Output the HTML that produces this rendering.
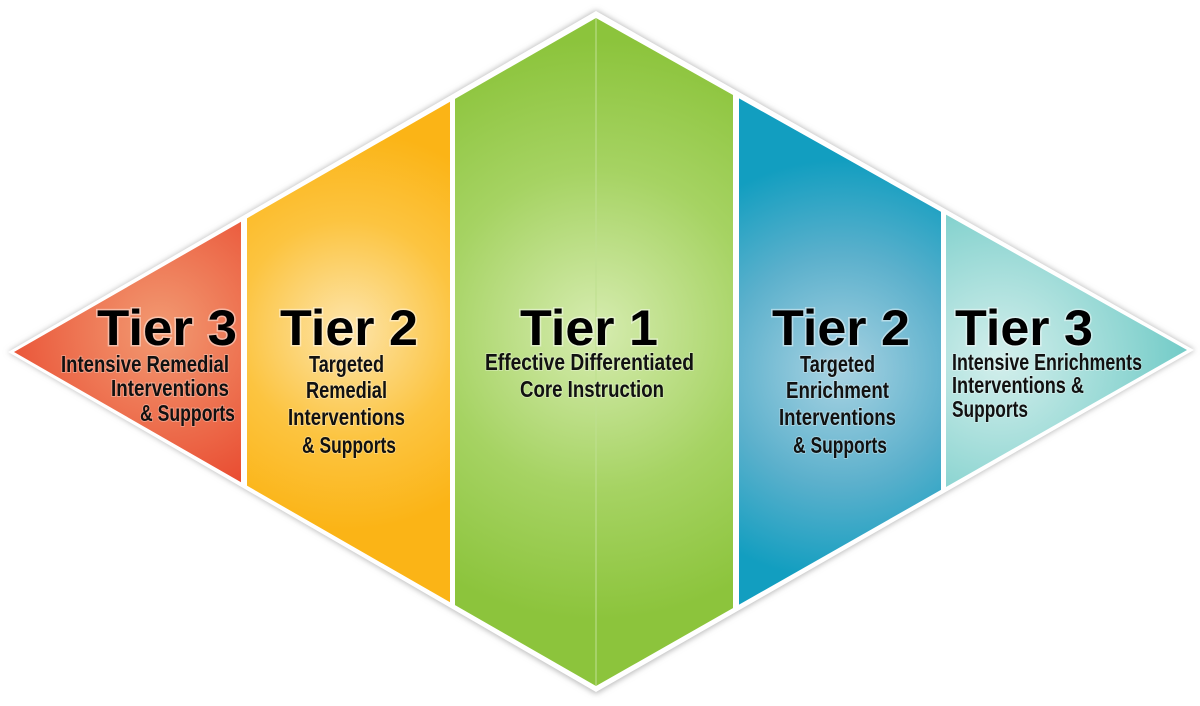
<!DOCTYPE html>
<html><head><meta charset="utf-8"><style>html,body{margin:0;padding:0;background:#fff}svg{display:block}</style></head>
<body>
<svg width="1200" height="706" viewBox="0 0 1200 706" xmlns="http://www.w3.org/2000/svg">
<defs>
<filter id="sh" x="-5%" y="-5%" width="110%" height="110%"><feGaussianBlur stdDeviation="3"/></filter>
<radialGradient id="gr" gradientUnits="userSpaceOnUse" cx="160" cy="330" r="190"><stop offset="0" stop-color="#f29a72"/><stop offset="1" stop-color="#e8442a"/></radialGradient>
<radialGradient id="go" gradientUnits="userSpaceOnUse" cx="348" cy="330" r="200"><stop offset="0" stop-color="#fde5ac"/><stop offset="0.55" stop-color="#fcc440"/><stop offset="1" stop-color="#fbb416"/></radialGradient>
<radialGradient id="gg" gradientUnits="userSpaceOnUse" cx="596" cy="330" r="290"><stop offset="0" stop-color="#d6ecb0"/><stop offset="0.55" stop-color="#a6d363"/><stop offset="1" stop-color="#8cc43c"/></radialGradient>
<radialGradient id="gb" gradientUnits="userSpaceOnUse" cx="840" cy="370" r="210"><stop offset="0" stop-color="#a9d3e2"/><stop offset="0.55" stop-color="#5bb0cc"/><stop offset="1" stop-color="#129ec0"/></radialGradient>
<radialGradient id="gt" gradientUnits="userSpaceOnUse" cx="1000" cy="360" r="230"><stop offset="0" stop-color="#d4efec"/><stop offset="1" stop-color="#5cc3bf"/></radialGradient>
<clipPath id="dc"><polygon points="14,352 596,18 1187,350 596,686"/></clipPath>
</defs>
<polygon points="8,352 596,10 1195,350 596,694" fill="#bbb" filter="url(#sh)"/>
<polygon points="8,352 596,11 1194,350 596,692" fill="#fff"/>
<g clip-path="url(#dc)">
<rect x="0" y="0" width="241" height="706" fill="url(#gr)"/>
<rect x="247" y="0" width="203" height="706" fill="url(#go)"/>
<rect x="455" y="0" width="278" height="706" fill="url(#gg)"/>
<rect x="739" y="0" width="202" height="706" fill="url(#gb)"/>
<rect x="946" y="0" width="260" height="706" fill="url(#gt)"/>
<line x1="596" y1="0" x2="596" y2="706" stroke="#bfe090" stroke-width="1.5" opacity="0.7"/>
</g>
<g font-family="Liberation Sans, sans-serif" font-weight="bold" fill="#000" stroke="#fff" stroke-opacity="0.45" stroke-width="3" paint-order="stroke">
<text x="97" y="345" font-size="50" textLength="140" lengthAdjust="spacingAndGlyphs">Tier 3</text>
<text x="280" y="345" font-size="50" textLength="138" lengthAdjust="spacingAndGlyphs">Tier 2</text>
<text x="520" y="345" font-size="50" textLength="138" lengthAdjust="spacingAndGlyphs">Tier 1</text>
<text x="772" y="345" font-size="50" textLength="138" lengthAdjust="spacingAndGlyphs">Tier 2</text>
<text x="955" y="345" font-size="50" textLength="138" lengthAdjust="spacingAndGlyphs">Tier 3</text>
</g>
<g font-family="Liberation Sans, sans-serif" font-size="23" font-weight="bold" fill="#111" stroke="#fff" stroke-opacity="0.3" stroke-width="2" paint-order="stroke">
<text x="61" y="372" textLength="168" lengthAdjust="spacingAndGlyphs">Intensive Remedial</text>
<text x="111" y="396" textLength="118" lengthAdjust="spacingAndGlyphs">Interventions</text>
<text x="140" y="421" textLength="95" lengthAdjust="spacingAndGlyphs">&amp; Supports</text>
<text x="309" y="372" textLength="75" lengthAdjust="spacingAndGlyphs">Targeted</text>
<text x="306" y="398" textLength="81" lengthAdjust="spacingAndGlyphs">Remedial</text>
<text x="288" y="425" textLength="117" lengthAdjust="spacingAndGlyphs">Interventions</text>
<text x="302" y="453" textLength="94" lengthAdjust="spacingAndGlyphs">&amp; Supports</text>
<text x="485" y="370" textLength="209" lengthAdjust="spacingAndGlyphs">Effective Differentiated</text>
<text x="520" y="397" textLength="144" lengthAdjust="spacingAndGlyphs">Core Instruction</text>
<text x="800" y="372" textLength="75" lengthAdjust="spacingAndGlyphs">Targeted</text>
<text x="786" y="398" textLength="103" lengthAdjust="spacingAndGlyphs">Enrichment</text>
<text x="779" y="425" textLength="117" lengthAdjust="spacingAndGlyphs">Interventions</text>
<text x="793" y="453" textLength="94" lengthAdjust="spacingAndGlyphs">&amp; Supports</text>
<text x="952" y="370" textLength="190" lengthAdjust="spacingAndGlyphs">Intensive Enrichments</text>
<text x="952" y="393" textLength="132" lengthAdjust="spacingAndGlyphs">Interventions &amp;</text>
<text x="952" y="417" textLength="76" lengthAdjust="spacingAndGlyphs">Supports</text>
</g>
</svg>
</body></html>
